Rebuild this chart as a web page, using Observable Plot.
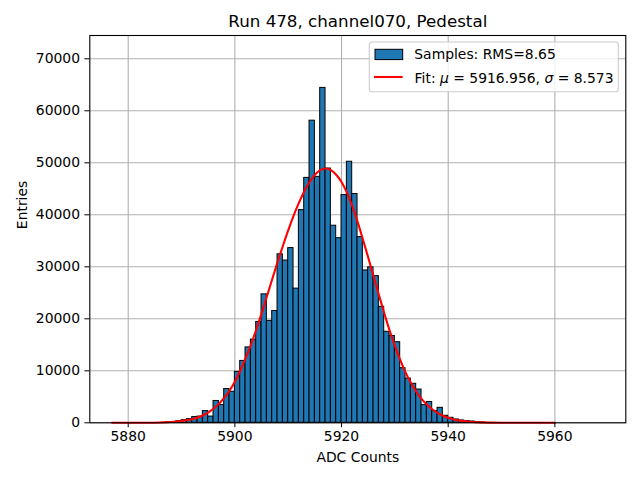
<!DOCTYPE html>
<html>
<head>
<meta charset="utf-8">
<script src="https://cdn.jsdelivr.net/npm/d3@7"></script>
<script src="https://cdn.jsdelivr.net/npm/@observablehq/plot@0.6"></script>
<style>
  html, body { margin: 0; padding: 0; background: white; }
</style>
</head>
<body>
<div id="chart"></div>
<script>
// ---- data ----
const titleText = "Run 478, channel070, Pedestal";
const xLabel = "ADC Counts";
const yLabel = "Entries";
const legendSamples = "Samples: RMS=8.65";

// histogram: lower / upper bin edges (bin width 1) and entries
const binLow = [5887, 5888, 5889, 5890, 5891, 5892, 5893, 5894, 5895, 5896,
  5897, 5898, 5899, 5900, 5901, 5902, 5903, 5904, 5905, 5906,
  5907, 5908, 5909, 5910, 5911, 5912, 5913, 5914, 5915, 5916,
  5917, 5918, 5919, 5920, 5921, 5922, 5923, 5924, 5925, 5926,
  5927, 5928, 5929, 5930, 5931, 5932, 5933, 5934, 5935, 5936,
  5937, 5938, 5939, 5940, 5941, 5942, 5943, 5944, 5945, 5946];
const binHigh = [5888, 5889, 5890, 5891, 5892, 5893, 5894, 5895, 5896, 5897,
  5898, 5899, 5900, 5901, 5902, 5903, 5904, 5905, 5906, 5907,
  5908, 5909, 5910, 5911, 5912, 5913, 5914, 5915, 5916, 5917,
  5918, 5919, 5920, 5921, 5922, 5923, 5924, 5925, 5926, 5927,
  5928, 5929, 5930, 5931, 5932, 5933, 5934, 5935, 5936, 5937,
  5938, 5939, 5940, 5941, 5942, 5943, 5944, 5945, 5946, 5947];
const counts = [80, 150, 300, 500, 700, 1100, 1200, 2250, 1200, 4200,
  3400, 6500, 5960, 9800, 11900, 14500, 16000, 19400, 24700, 19600,
  21500, 32400, 31200, 33600, 25800, 40900, 47100, 58100, 47300, 64400,
  48900, 37900, 35500, 43800, 50200, 44000, 35700, 29300, 29900, 28200,
  22300, 17500, 16700, 15500, 10500, 8500, 7500, 6400, 3400, 4000,
  2240, 2880, 1350, 960, 640, 450, 320, 250, 130, 60];

// fit curve
const fitX = [5877, 5880, 5883, 5886, 5888, 5890, 5892, 5894, 5896, 5898,
  5899, 5900, 5901, 5902, 5903, 5904, 5905, 5906, 5907, 5908,
  5909, 5910, 5911, 5912, 5913, 5914, 5915, 5916, 5917, 5918,
  5919, 5920, 5921, 5922, 5923, 5924, 5925, 5926, 5927, 5928,
  5929, 5930, 5931, 5932, 5933, 5934, 5935, 5936, 5937, 5938,
  5939, 5940, 5941, 5942, 5944, 5946, 5950, 5955, 5960];
const fitY = [0, 5, 20, 70, 150, 350, 700, 1400, 2700, 4800,
  6200, 7900, 10000, 12400, 15000, 17900, 21000, 24300, 27600, 30900,
  34000, 37000, 39800, 42300, 44500, 46300, 47700, 48600, 48900, 48600,
  47700, 46300, 44300, 41700, 38700, 35300, 31800, 28200, 24600, 21100,
  17800, 14800, 12100, 9700, 7700, 6000, 4600, 3500, 2600, 1900,
  1350, 950, 650, 440, 200, 80, 15, 1, 0];

const xTicks = [5880, 5900, 5920, 5940, 5960];
const yTicks = [0, 10000, 20000, 30000, 40000, 50000, 60000, 70000];

// ---- build tables ----
const bins = binLow.map((x1, i) => ({x1, x2: binHigh[i], count: counts[i]}));
const fit = fitX.map((x, i) => ({x, y: fitY[i]}));

const fontFamily = "DejaVu Sans, Liberation Sans, sans-serif";

const svg = Plot.plot({
  width: 640,
  height: 480,
  marginLeft: 89.3,
  marginRight: 14.7,
  marginTop: 35,
  marginBottom: 57.7,
  style: {fontFamily, fontSize: "13.9px", color: "black", background: "white"},
  x: {domain: [5872.8, 5973.3]},
  y: {domain: [0, 74480]},
  marks: [
    Plot.gridX(xTicks, {stroke: "#b0b0b0", strokeOpacity: 1, strokeWidth: 1.1}),
    Plot.gridY(yTicks, {stroke: "#b0b0b0", strokeOpacity: 1, strokeWidth: 1.1}),
    Plot.rectY(bins, {x1: "x1", x2: "x2", y: "count", fill: "#1f77b4", stroke: "black", strokeWidth: 1}),
    Plot.line(fit, {x: "x", y: "y", stroke: "red", strokeWidth: 2.1, curve: "monotone-x"}),
    Plot.frame({stroke: "black", strokeWidth: 1.1}),
    Plot.axisX(xTicks, {tickSize: 4.9, tickPadding: 3.5, tickFormat: d3.format("d"), label: null, fontSize: 13.9}),
    Plot.axisY(yTicks, {tickSize: 4.9, tickPadding: 4.9, tickFormat: d3.format("d"), label: null, fontSize: 13.9}),
    Plot.text([titleText], {frameAnchor: "top", dy: -14, fontSize: 16.7, lineAnchor: "middle"}),
    Plot.text([xLabel], {frameAnchor: "bottom", dy: 35, fontSize: 13.9, lineAnchor: "middle"}),
    Plot.text([yLabel], {frameAnchor: "left", dx: -67.3, rotate: -90, fontSize: 13.9, lineAnchor: "middle"})
  ]
});

// legend
const g = d3.select(svg).append("g")
  .attr("font-family", fontFamily).attr("font-size", 13.9).attr("text-anchor", "start");
g.append("rect").attr("x", 369.3).attr("y", 42).attr("width", 249).attr("height", 49.7)
  .attr("rx", 2.8).attr("fill", "white").attr("fill-opacity", 0.8)
  .attr("stroke", "#cccccc").attr("stroke-width", 1.1);
g.append("rect").attr("x", 375).attr("y", 49.3).attr("width", 27.7).attr("height", 10.3)
  .attr("fill", "#1f77b4").attr("stroke", "black").attr("stroke-width", 1);
g.append("text").attr("x", 414.3).attr("y", 54.3).attr("dy", "0.36em")
  .attr("text-anchor", "start").attr("fill", "black").text(legendSamples);
g.append("line").attr("x1", 374).attr("x2", 402.7).attr("y1", 77).attr("y2", 77)
  .attr("stroke", "red").attr("stroke-width", 2.1);
const t = g.append("text").attr("x", 414.6).attr("y", 77.5).attr("dy", "0.36em")
  .attr("text-anchor", "start").attr("fill", "black");
t.append("tspan").text("Fit: ");
t.append("tspan").attr("font-style", "italic").text("μ");
t.append("tspan").text(" = 5916.956, ");
t.append("tspan").attr("font-style", "italic").text("σ");
t.append("tspan").text(" = 8.573");

document.getElementById("chart").appendChild(svg);
</script>
</body>
</html>
